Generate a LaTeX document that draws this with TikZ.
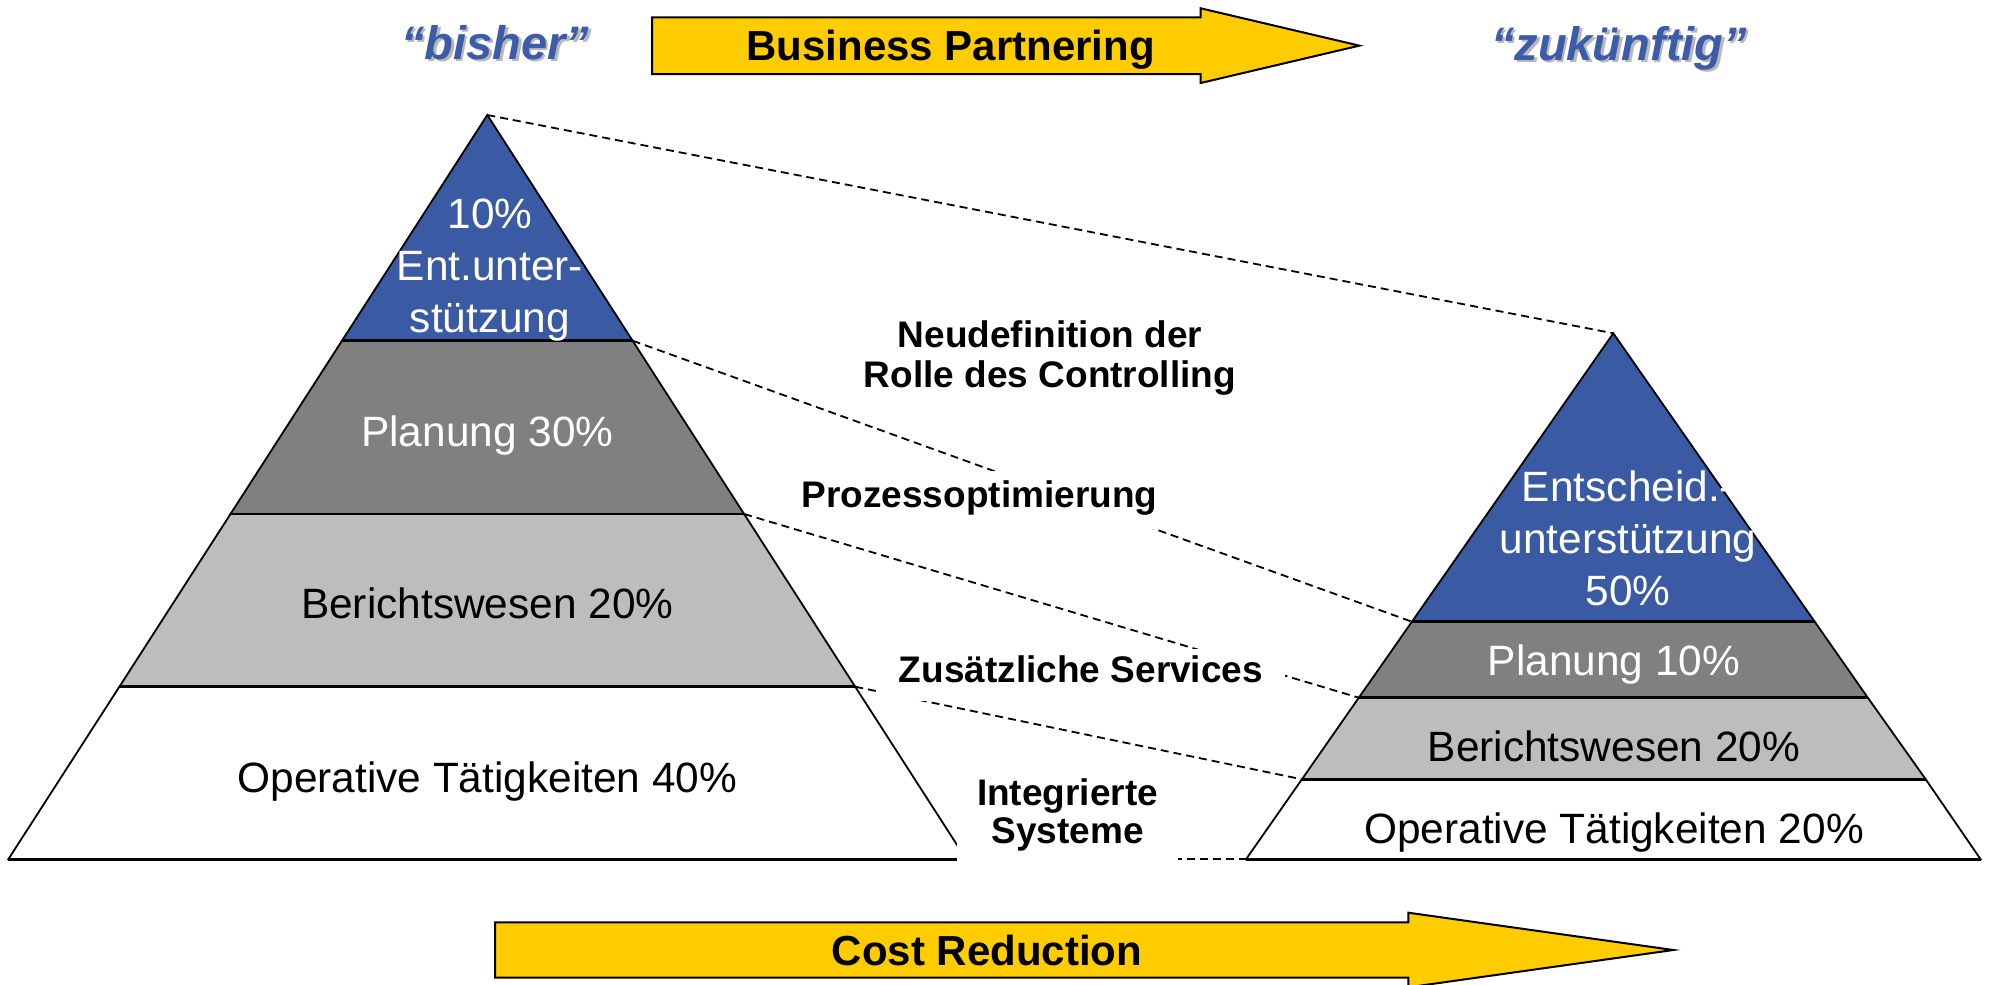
\documentclass[tikz,border=0pt]{standalone}
\usepackage{fontspec}
\setmainfont{Liberation Sans}
\definecolor{pyrblue}{HTML}{3B5AA4}
\definecolor{ttlblue}{HTML}{3C5BA8}
\definecolor{dgray}{HTML}{808080}
\definecolor{lgray}{HTML}{BDBDBD}
\definecolor{arrowyellow}{HTML}{FFCC00}
\definecolor{shadowgray}{HTML}{B8B8B8}
\newcommand\pyrfont{\fontsize{42.4}{52}\selectfont}
\newcommand\lblfont{\fontsize{37}{38}\selectfont\bfseries}
\newcommand\arrfont{\fontsize{42}{48}\selectfont\bfseries}
\newcommand\ttlfont{\fontsize{47}{54}\selectfont\bfseries\itshape}
\begin{document}
\begin{tikzpicture}[x=1pt,y=-1pt,
  layer/.style={draw=black,line width=1.8pt,line join=miter},
  sepline/.style={draw=black,line width=2.8pt},
  conn/.style={draw=black,line width=1.8pt,dash pattern=on 8pt off 5pt},
  lbl/.style={fill=white,inner sep=0pt,font=\lblfont,align=center},
  ptxt/.style={inner sep=0pt,font=\pyrfont,align=center},
  ttl/.style={inner sep=0pt,font=\ttlfont,anchor=base},
  arr/.style={draw=black,fill=arrowyellow,line width=2pt,line join=miter},
  arrtxt/.style={inner sep=0pt,font=\arrfont,anchor=base}]
\useasboundingbox (0,0) rectangle (1990,985);
% left pyramid corners
\coordinate (LA) at (487.3,115);
\coordinate (L1l) at (342.0,340.7); \coordinate (L1r) at (632.6,340.7);
\coordinate (L2l) at (230.5,514);   \coordinate (L2r) at (744.1,514);
\coordinate (L3l) at (119.4,686.7); \coordinate (L3r) at (855.2,686.7);
\coordinate (L4l) at (8.3,859.3);   \coordinate (L4r) at (966.3,859.3);
% right pyramid corners
\coordinate (RA) at (1613.3,333.3);
\coordinate (R1l) at (1411.9,621.7); \coordinate (R1r) at (1814.7,621.7);
\coordinate (R2l) at (1358.8,697.7); \coordinate (R2r) at (1867.8,697.7);
\coordinate (R3l) at (1301.9,779.3); \coordinate (R3r) at (1925.7,779.3);
\coordinate (R4l) at (1246.0,859.3); \coordinate (R4r) at (1980.6,859.3);
% left pyramid
\filldraw[layer,fill=pyrblue] (LA) -- (L1r) -- (L1l) -- cycle;
\filldraw[layer,fill=dgray] (L1l) -- (L1r) -- (L2r) -- (L2l) -- cycle;
\filldraw[layer,fill=lgray] (L2l) -- (L2r) -- (L3r) -- (L3l) -- cycle;
\filldraw[layer,fill=white] (L3l) -- (L3r) -- (L4r) -- (L4l) -- cycle;
\draw[sepline] (L1l) -- (L1r) (L2l) -- (L2r) (L3l) -- (L3r) (L4l) -- (L4r);
% right pyramid
\filldraw[layer,fill=pyrblue] (RA) -- (R1r) -- (R1l) -- cycle;
\filldraw[layer,fill=dgray] (R1l) -- (R1r) -- (R2r) -- (R2l) -- cycle;
\filldraw[layer,fill=lgray] (R2l) -- (R2r) -- (R3r) -- (R3l) -- cycle;
\filldraw[layer,fill=white] (R3l) -- (R3r) -- (R4r) -- (R4l) -- cycle;
\draw[sepline] (R1l) -- (R1r) (R2l) -- (R2r) (R3l) -- (R3r) (R4l) -- (R4r);
% dashed connectors
\draw[conn] (LA) -- (RA);
\draw[conn] (L1r) -- (R1l);
\draw[conn] (L2r) -- (R2l);
\draw[conn] (L3r) -- (R3l);
\draw[conn] (L4r) -- (R4l);
% labels
\node[lbl,fill=none] (neu) at (1050,359.7) {\strut Neudefinition der\\\strut Rolle des Controlling};
\node[lbl,minimum width=365pt,minimum height=58pt] (proz) at (979.5,500) {\strut Prozessoptimierung};
\node[lbl,minimum width=408pt,minimum height=52pt] (zus) at (1081,674.5) {\strut Zusätzliche Services};
\node[lbl,minimum width=221pt,minimum height=98pt] (int) at (1067.5,817) {\strut Integrierte\\\strut Systeme};
% pyramid texts left
\node[ptxt,text=white] (lt) at (490,269.9) {\strut 10\%\\\strut Ent.unter-\\\strut stützung};
\node[ptxt,text=white] (lp) at (487.3,435.6) {\strut Planung 30\%};
\node[ptxt] (lb) at (487.3,607.6) {\strut Berichtswesen 20\%};
\node[ptxt] (lo) at (487.3,781.6) {\strut Operative Tätigkeiten 40\%};
% pyramid texts right
\node[ptxt,text=white] (rt) at (1628,542.6) {\strut Entscheid.-\\\strut unterstützung\\\strut 50\%};
\node[ptxt,text=white] (rp) at (1614,664.6) {\strut Planung 10\%};
\node[ptxt] (rb) at (1614,750.6) {\strut Berichtswesen 20\%};
\node[ptxt] (ro) at (1614,832.6) {\strut Operative Tätigkeiten 20\%};
% titles
\node[ttl,text=shadowgray] (bishers) at (497.8,61.8) {“bisher”};
\node[ttl,text=ttlblue] (bisher) at (495.3,59.3) {“bisher”};
\node[ttl,text=shadowgray] (zuks) at (1621.5,62.5) {“zukünftig”};
\node[ttl,text=ttlblue] (zuk) at (1619,60) {“zukünftig”};
% arrows
\filldraw[arr] (652,17.3) -- (1200.7,17.3) -- (1200.7,8.3) -- (1359.3,45.65) -- (1200.7,83) -- (1200.7,74) -- (652,74) -- cycle;
\node[arrtxt] (bp) at (950.6,60.7) {Business Partnering};
\filldraw[arr] (495,922.3) -- (1408.3,922.3) -- (1408.3,912.7) -- (1673.3,950) -- (1408.3,987.3) -- (1408.3,977.7) -- (495,977.7) -- cycle;
\node[arrtxt] (cr) at (987,965) {Cost Reduction};
\end{tikzpicture}
\end{document}
